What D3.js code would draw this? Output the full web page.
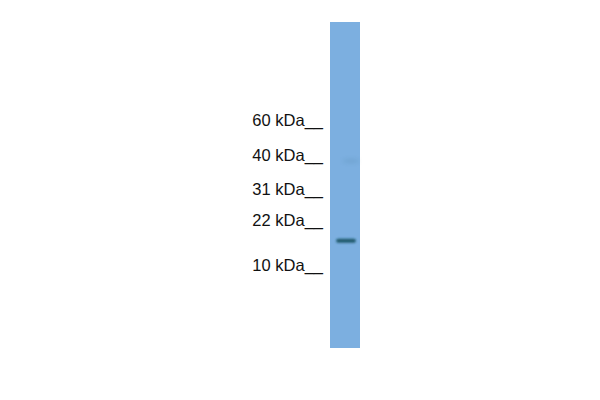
<!DOCTYPE html>
<html>
<head>
<meta charset="utf-8">
<script src="https://cdn.jsdelivr.net/npm/d3@7"></script>
<style>
  html, body { margin: 0; padding: 0; background: #fff; }
  svg { display: block; }
</style>
</head>
<body>
<div id="blot"></div>
<script>
// marker ladder (kDa) and where each one sits on the lane, top to bottom
const markerLabels = ["60 kDa__", "40 kDa__", "31 kDa__", "22 kDa__", "10 kDa__"];
const markerKda = [60, 40, 31, 22, 10];
// bands seen in the lane: size in kDa and darkness (0..1)
const bandKda = [17, 40];
const bandIntensity = [0.95, 0.12];
const bandWidth = [0.66, 0.5];

const width = 600, height = 400;

const svg = d3.select("#blot").append("svg")
    .attr("width", width)
    .attr("height", height);

// lane box
const lane = { x0: 330, x1: 360, y0: 22, y1: 348 };

// piecewise kDa -> y, from ladder positions
const y = d3.scaleLinear()
    .domain(markerKda.map(d => Math.log(d)))
    .range([126, 161, 195, 226, 271]);

const x = d3.scaleLinear().domain([0, 1]).range([lane.x0, lane.x1]);

const defs = svg.append("defs");
defs.append("filter").attr("id", "blur")
    .attr("x", "-20%").attr("y", "-200%").attr("width", "140%").attr("height", "500%")
    .append("feGaussianBlur").attr("stdDeviation", "1 0.9");
defs.append("filter").attr("id", "blur2")
    .attr("x", "-20%").attr("y", "-200%").attr("width", "140%").attr("height", "500%")
    .append("feGaussianBlur").attr("stdDeviation", "3 2");

svg.append("rect")
    .attr("x", lane.x0)
    .attr("y", lane.y0)
    .attr("width", lane.x1 - lane.x0)
    .attr("height", lane.y1 - lane.y0)
    .style("fill", "#7cafe0");

// bands
svg.selectAll(".band")
    .data(bandKda)
    .enter()
    .append("rect")
    .attr("class", "band")
    .attr("x", (d, i) => x(0.5 - bandWidth[i] / 2) + (i === 1 ? 6 : 1))
    .attr("y", d => y(Math.log(d)) - 2)
    .attr("width", (d, i) => x(bandWidth[i]) - x(0))
    .attr("height", 4)
    .attr("rx", 2)
    .style("fill", "#1d5566")
    .style("opacity", (d, i) => bandIntensity[i])
    .attr("filter", (d, i) => i === 0 ? "url(#blur)" : "url(#blur2)");

// ladder labels
svg.selectAll(".marker")
    .data(markerLabels)
    .enter()
    .append("text")
    .attr("class", "marker")
    .attr("x", 323)
    .attr("y", (d, i) => y(Math.log(markerKda[i])))
    .attr("text-anchor", "end")
    .style("font-family", "'Liberation Sans', Arial, sans-serif")
    .style("font-size", "16.5px")
    .style("fill", "#111")
    .text(d => d);
</script>
</body>
</html>
